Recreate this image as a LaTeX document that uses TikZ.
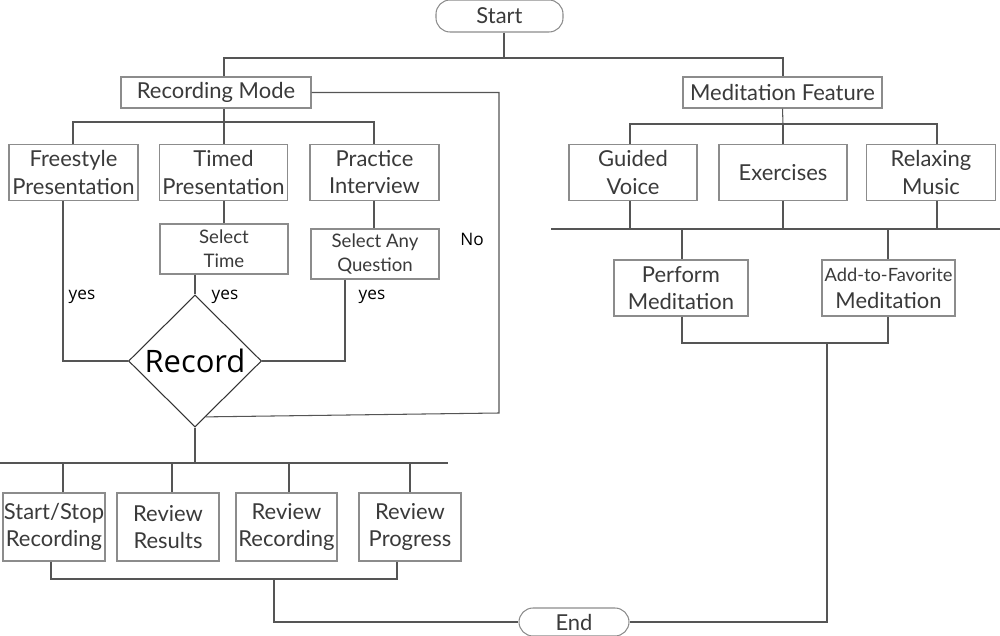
\documentclass[tikz,border=0pt]{standalone}
\usepackage{fontspec}
\setmainfont{Lato}
\newfontfamily\osans{Open Sans}
\usetikzlibrary{shapes.geometric,calc}
\definecolor{txt}{HTML}{3A3A3A}
\definecolor{edgec}{HTML}{8C8C8C}
\definecolor{lnc}{HTML}{555555}
\begin{document}
\begin{tikzpicture}[x=0.2mm,y=-0.2mm,
  box/.style={draw=edgec, line width=0.6pt, text=txt, align=center, inner sep=0pt,
    font=\fontsize{12.5}{15.4}\selectfont},
  small/.style={font=\fontsize{10.6}{13.7}\selectfont},
  sz/.style 2 args={minimum width=#1*0.2mm, minimum height=#2*0.2mm},
  term/.style={box, rounded corners=8pt},
  dec/.style={draw=black!80, line width=0.6pt, shape=diamond, inner sep=0pt, text=black,
    font=\osans\fontsize{17.6}{20}\selectfont},
  conn/.style={draw=lnc, line width=0.6pt},
  lab/.style={font=\osans\fontsize{9.8}{11}\selectfont, text=black}
]
\useasboundingbox (0,0) rectangle (1000,636);

% terminals
\node[term, sz={127}{32}] (start) at (499.5,16) {Start};
\node[term, sz={110}{28}] (end) at (574,622) {End};

% top level
\node[box, sz={190}{31}] (recmode) at (216,92.5) {Recording Mode};
\node[box, sz={199}{31}] (medfeat) at (782.5,92.5) {Meditation Feature};

% recording modes
\node[box, sz={129}{56}] (free) at (73.5,172.5) {Freestyle\\Presentation};
\node[box, sz={128}{56}] (timed) at (223.5,172.5) {Timed\\Presentation};
\node[box, sz={129}{56}] (pract) at (374.5,172.5) {Practice\\Interview};
\node[box, small, sz={128}{50}] (seltime) at (224,249) {Select\\Time};
\node[box, small, sz={128}{50}] (selq) at (375,254) {Select Any\\Question};

% decision
\node[dec, minimum width=133*0.2mm, minimum height=132*0.2mm] (rec) at (195,361) {Record};

% recording actions
\node[box, sz={102}{68}] (ss) at (54,527) {Start/Stop\\Recording};
\node[box, sz={102}{68}] (rres) at (168,527) {Review\\Results};
\node[box, sz={101}{68}] (rrec) at (286.5,527) {Review\\Recording};
\node[box, sz={102}{68}] (rprog) at (410,527) {Review\\Progress};

% meditation
\node[box, sz={128}{56}] (guided) at (633,172.5) {Guided\\Voice};
\node[box, sz={128}{56}] (exer) at (783,172.5) {Exercises};
\node[box, sz={129}{56}] (relax) at (931,172.5) {Relaxing\\Music};
\node[box, sz={134}{56}] (perform) at (681,288) {Perform\\Meditation};
\node[box, sz={133}{56}] (addfav) at (888.5,288) {{\fontsize{10.4}{13}\selectfont Add-to-Favorite}\\Meditation};

% junction coordinates
\coordinate (j0) at (504,58);
\coordinate (jr) at (224,122);
\coordinate (jm) at (783,124);
\coordinate (jb) at (198,463);
\coordinate (jno) at (499,413);
\coordinate (jend) at (274,579);
\coordinate (jmed) at (827,343);

% start split
\draw[conn] (start.south -| j0) -- (j0);
\draw[conn] (recmode.north -| 224,0) |- (783,58) -- (medfeat.north -| 783,0);

% recording mode split
\draw[conn] (recmode.south -| jr) -- (jr);
\draw[conn] (free.north -| 73,0) |- (jr) -| (pract.north -| 374,0);
\draw[conn] (jr) -- (timed.north -| jr);

% into selects
\draw[conn] (timed.south -| 224,0) -- (seltime.north -| 224,0);
\draw[conn] (pract.south -| 374,0) -- (selq.north -| 374,0);

% into Record
\draw[conn] (free.south -| 63,0) |- (rec.west);
\draw[conn] (seltime.south -| 195,0) -- (rec.north);
\draw[conn] (selq.south -| 345,0) |- (rec.east);
\draw[conn] (recmode.east) -| (jno) -- ($(rec.east)!0.84!(rec.south)$);

% labels
\node[lab] at (82,297) {yes};
\node[lab] at (225,297) {yes};
\node[lab] at (372,297) {yes};
\node[lab] at (472,239) {No};

% Record split
\draw[conn] (rec.south) -- (rec.south |- jb);
\draw[conn] (0,463) -- (448,463);
\draw[conn] (63,463) -- (ss.north -| 63,0);
\draw[conn] (172,463) -- (rres.north -| 172,0);
\draw[conn] (289,463) -- (rrec.north -| 289,0);
\draw[conn] (410,463) -- (rprog.north -| 410,0);

% merge to End
\draw[conn] (ss.south -| 51,0) |- (jend) -| (rprog.south -| 397,0);
\draw[conn] (jend) |- (end.west);

% meditation split
\draw[conn] (medfeat.south) -- (jm);
\draw[conn] (guided.north -| 630,0) |- (jm) -| (relax.north -| 937,0);
\draw[conn] (jm) -- (exer.north -| jm);
\draw[conn] (guided.south -| 630,0) -- (630,229);
\draw[conn] (exer.south -| 783,0) -- (783,229);
\draw[conn] (relax.south -| 937,0) -- (937,229);
\draw[conn] (551,229) -- (1000,229);
\draw[conn] (682,229) -- (perform.north -| 682,0);
\draw[conn] (888,229) -- (addfav.north -| 888,0);
\draw[conn] (perform.south -| 682,0) |- (jmed) -| (addfav.south -| 888,0);
\draw[conn] (jmed) |- (end.east);
\end{tikzpicture}
\end{document}
